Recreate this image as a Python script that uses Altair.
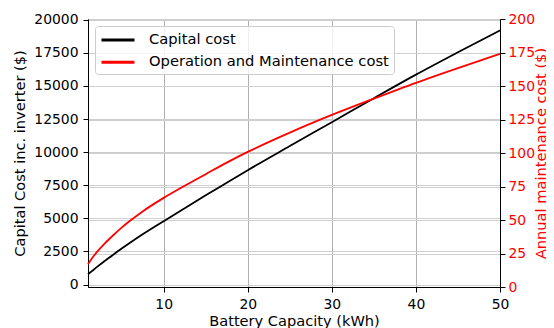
import altair as alt
import pandas as pd

# ---- data ----
capacity_kwh = [1, 1.5, 2, 3, 4, 5, 6, 7.5, 10, 12.5, 15, 17.5, 20, 25, 30, 35, 40, 45, 50]
capital_cost = [780, 1040, 1300, 1790, 2260, 2720, 3160, 3800, 4790, 5770, 6740, 7690, 8640,
                10460, 12260, 14070, 15850, 17540, 19190]
om_cost = [17, 21.7, 25.6, 32.5, 38.6, 44.3, 49.4, 56.4, 66.5, 75.5, 84.2, 92.8, 100.8,
           115.2, 128.4, 140.6, 152.4, 163.4, 174]
series_names = ["Capital cost", "Operation and Maintenance cost"]
series_colors = ["black", "red"]
x_ticks = [10, 20, 30, 40, 50]
left_ticks = [0, 2500, 5000, 7500, 10000, 12500, 15000, 17500, 20000]
right_ticks = [0, 25, 50, 75, 100, 125, 150, 175, 200]

n = len(capacity_kwh)
df = pd.DataFrame({
    "capacity": capacity_kwh * 2,
    "series": [series_names[0]] * n + [series_names[1]] * n,
    "value": capital_cost + om_cost,
})

FONT = "DejaVu Sans"
FS_TICK = 13.9
FS_TITLE = 14.6
FS_LEGEND = 14.7

x_enc = alt.X(
    "capacity:Q",
    scale=alt.Scale(domain=[1, 50], nice=False, zero=False),
    axis=alt.Axis(values=x_ticks, title="Battery Capacity (kWh)", grid=True,
                  gridColor="#b0b0b0", gridWidth=1, labelFlush=False,
                  titlePadding=3),
)

color_enc = alt.Color(
    "series:N",
    scale=alt.Scale(domain=series_names, range=series_colors),
    legend=alt.Legend(
        title=None, orient="top-left", offset=7, padding=5,
        symbolType="M-2.2,0H2.2", symbolStrokeWidth=3, symbolSize=225,
        symbolOffset=9,
        labelFont=FONT, labelFontSize=FS_LEGEND, labelColor="black", labelOffset=22,
        rowPadding=6.3, strokeColor="#cccccc", fillColor="rgba(255,255,255,0.8)",
        cornerRadius=3, labelLimit=400,
    ),
)

base = alt.Chart(df)

left = base.transform_filter(alt.datum.series == series_names[0]).mark_line(
    strokeWidth=1.8, interpolate="monotone"
).encode(
    x=x_enc,
    y=alt.Y("value:Q",
            scale=alt.Scale(domain=[-180, 20050], nice=False, zero=False),
            axis=alt.Axis(values=left_ticks, format="d", orient="left",
                          title="Capital Cost inc. inverter ($)", grid=True,
                          gridColor="#cfcfcf", titlePadding=6)),
    color=color_enc,
)

right = base.transform_filter(alt.datum.series == series_names[1]).mark_line(
    strokeWidth=1.8, interpolate="monotone"
).encode(
    x=x_enc,
    y=alt.Y("value:Q",
            scale=alt.Scale(domain=[0, 200], nice=False, zero=False),
            axis=alt.Axis(values=right_ticks, format="d", orient="right",
                          title="Annual maintenance cost ($)", grid=True,
                          gridColor="#cfcfcf", labelColor="red", titleColor="red",
                          labelPadding=3,
                          titleAngle=270, titleBaseline="alphabetic", titleAlign="center",
                          titleX=45.5, titleY=134)),
    color=color_enc,
)

chart = alt.layer(left, right).resolve_scale(y="independent").properties(
    width=412, height=268,
    autosize=alt.AutoSizeParams(type="none"),
    padding={"left": 80, "top": 11, "right": 46, "bottom": 41},
).configure_view(
    stroke="black", strokeWidth=1
).configure_axis(
    labelFont=FONT, labelFontSize=FS_TICK, titleFont=FONT, titleFontSize=FS_TITLE,
    titleFontWeight="normal", labelColor="black", titleColor="black",
    domainColor="black", tickColor="black", tickSize=5, labelPadding=5,
    domainWidth=1, tickWidth=1, labelOverlap=False,
)

chart.save("out.html", embed_options={"renderer": "svg", "actions": False})
